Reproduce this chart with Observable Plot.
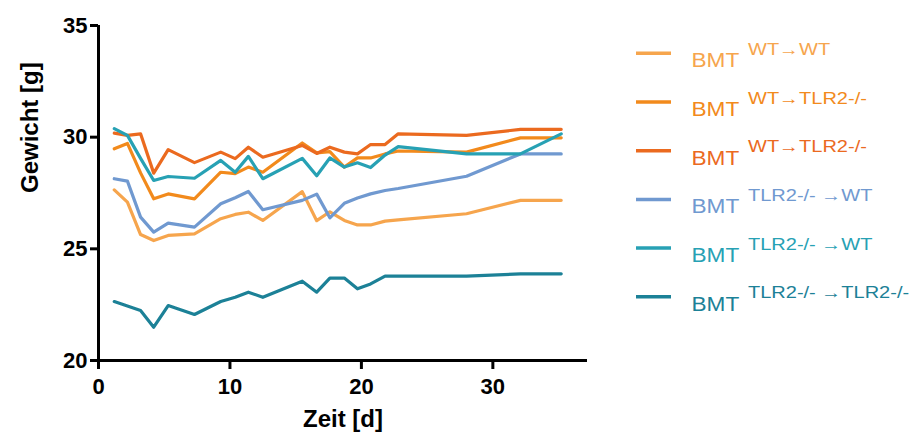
<!DOCTYPE html>
<html>
<head>
<meta charset="utf-8">
<script src="https://cdn.jsdelivr.net/npm/d3@7"></script>
<script src="https://cdn.jsdelivr.net/npm/@observablehq/plot@0.6"></script>
<style>
  body { margin: 0; background: #fff; }
  #chart { width: 918px; height: 439px; }
  [aria-label$="tick label"] text, [aria-label$="tick label"] { font-weight: bold; }
</style>
</head>
<body>
<div id="chart"></div>
<script>
// Days
const days = [1.2, 2.2, 3.2, 4.2, 5.3, 7.3, 9.3, 10.4, 11.4, 12.5, 15.5, 16.6, 17.6, 18.7, 19.7, 20.7, 21.8, 22.8, 28.0, 32.1, 35.2];

// Body weight [g] per group
const wtToWt      = [27.64, 27.09, 25.64, 25.37, 25.60, 25.67, 26.35, 26.54, 26.64, 26.27, 27.56, 26.26, 26.66, 26.27, 26.07, 26.07, 26.24, 26.30, 26.57, 27.17, 27.17];
const wtToTlr2a   = [29.48, 29.72, 28.40, 27.24, 27.46, 27.24, 28.43, 28.37, 28.66, 28.43, 29.74, 29.30, 29.35, 28.66, 29.07, 29.07, 29.25, 29.38, 29.33, 29.97, 29.97];
const wtToTlr2b   = [30.18, 30.08, 30.15, 28.39, 29.44, 28.86, 29.33, 29.04, 29.55, 29.10, 29.63, 29.27, 29.55, 29.33, 29.25, 29.67, 29.67, 30.15, 30.08, 30.35, 30.35];
const tlr2ToWtA   = [28.14, 28.03, 26.42, 25.75, 26.15, 25.97, 27.02, 27.29, 27.57, 26.75, 27.17, 27.45, 26.39, 27.04, 27.28, 27.46, 27.61, 27.70, 28.25, 29.25, 29.25];
const tlr2ToWtB   = [30.38, 30.08, 29.05, 28.06, 28.24, 28.16, 28.96, 28.43, 29.14, 28.14, 29.05, 28.27, 29.07, 28.66, 28.85, 28.64, 29.20, 29.58, 29.25, 29.25, 30.15];
const tlr2ToTlr2  = [22.64, 22.44, 22.24, 21.49, 22.46, 22.06, 22.64, 22.83, 23.06, 22.83, 23.55, 23.06, 23.69, 23.69, 23.21, 23.43, 23.78, 23.78, 23.78, 23.88, 23.88];

const seriesKeys   = ["s1", "s2", "s3", "s4", "s5", "s6"];
const seriesValues = [wtToWt, wtToTlr2a, wtToTlr2b, tlr2ToWtA, tlr2ToWtB, tlr2ToTlr2];
const seriesColors = ["#f6a54d", "#f28a1c", "#eb6a1f", "#7099d0", "#27a1b4", "#1c8197"];
const legendBase   = "BMT";
const legendSup    = ["WT\u2192WT", "WT\u2192TLR2-/-", "WT\u2192TLR2-/-", "TLR2-/- \u2192WT", "TLR2-/- \u2192WT", "TLR2-/- \u2192TLR2-/-"];

const xTicks = [0, 10, 20, 30];
const yTicks = [20, 25, 30, 35];

const data = [];
seriesKeys.forEach((k, i) => days.forEach((d, j) => data.push({series: k, day: d, weight: seriesValues[i][j]})));

const font = "'Liberation Sans', Arial, sans-serif";

const plot = Plot.plot({
  width: 918,
  height: 439,
  marginLeft: 98,
  marginRight: 331,
  marginTop: 25,
  marginBottom: 79,
  style: {fontFamily: font, background: "white", color: "black"},
  x: {domain: [0, 37.2]},
  y: {domain: [20, 35]},
  color: {domain: seriesKeys, range: seriesColors},
  marks: [
    Plot.line(data, {x: "day", y: "weight", z: "series", stroke: "series", strokeWidth: 3.2}),
    Plot.ruleX([0], {strokeWidth: 3}),
    Plot.ruleY([20], {strokeWidth: 3}),
    Plot.axisX({ticks: xTicks, tickSize: 9, tickPadding: 9, fontSize: 22, label: null, strokeWidth: 3}),
    Plot.axisY({ticks: yTicks, tickSize: 8, tickPadding: 3, fontSize: 22, label: null, strokeWidth: 3}),
    Plot.text(["Gewicht [g]"], {frameAnchor: "left", dx: -68, rotate: -90, fontSize: 24, fontWeight: "bold"}),
    Plot.text(["Zeit [d]"], {frameAnchor: "bottom", dy: 66, fontSize: 24, fontWeight: "bold"})
  ]
});

// Legend drawn into the same SVG
const svg = d3.select(plot);
const lg = svg.append("g").attr("font-family", font).attr("text-anchor", "start");
seriesKeys.forEach((k, i) => {
  const yc = 53.3 + i * 48.7;
  const c = seriesColors[i];
  lg.append("line").attr("x1", 636).attr("x2", 671).attr("y1", yc).attr("y2", yc)
    .attr("stroke", c).attr("stroke-width", 3.5);
  lg.append("text").attr("transform", `translate(691.5,${yc + 14}) scale(1.16,1)`)
    .attr("text-anchor", "start").attr("fill", c).attr("font-size", 19.5).text(legendBase);
  lg.append("text").attr("transform", `translate(748,${yc + 1.5}) scale(1.25,1)`)
    .attr("text-anchor", "start").attr("fill", c).attr("font-size", 16).text(legendSup[i]);
});

document.getElementById("chart").appendChild(plot);
</script>
</body>
</html>
